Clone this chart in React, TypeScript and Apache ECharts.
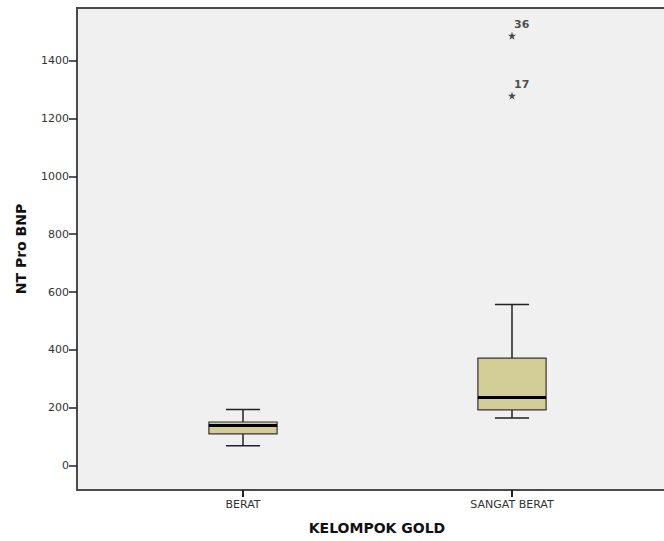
import React, { useEffect, useRef } from "react";
import * as echarts from "echarts";

// ---- data ----
const categories = ["BERAT", "SANGAT BERAT"];
// [position, min whisker, Q1, median, Q3, max whisker]
const boxBerat = [1, 69, 110, 139, 151, 194];
const boxSangatBerat = [2, 165, 193, 236, 372, 557];
// outliers: [position, value, case id]
const outliers = [
  [2, 1486, "36"],
  [2, 1279, "17"],
];
const yTicks = [0, 200, 400, 600, 800, 1000, 1200, 1400];
const xTicks = [1, 2];

const FONT = "DejaVu Sans";
const STAR =
  "path://M0,-10 L2.35,-3.24 L9.51,-3.09 L3.8,1.24 L5.88,8.09 L0,4 L-5.88,8.09 L-3.8,1.24 L-9.51,-3.09 L-2.35,-3.24 Z";

export default function App() {
  const ref = useRef<HTMLDivElement>(null);

  useEffect(() => {
    if (!ref.current) return;
    const chart = echarts.init(ref.current, null, { renderer: "svg" });
    chart.setOption({
      animation: false,
      backgroundColor: "#ffffff",
      grid: {
        left: 77,
        top: 8,
        right: 13,
        bottom: 51,
        show: true,
        backgroundColor: "#f0f0f0",
        borderColor: "#4a4a4a",
        borderWidth: 2,
      },
      xAxis: {
        type: "value",
        min: 0.3829,
        max: 2.6134,
        name: "KELOMPOK GOLD",
        nameLocation: "middle",
        nameGap: 31,
        nameTextStyle: {
          fontFamily: FONT,
          fontWeight: "bold",
          fontSize: 14,
          color: "#111",
        },
        axisLine: { show: true, onZero: false, lineStyle: { color: "#4a4a4a", width: 2 } },
        splitLine: { show: false },
        axisTick: {
          show: true,
          customValues: xTicks,
          length: 7,
          lineStyle: { color: "#222", width: 2 },
        },
        axisLabel: {
          customValues: xTicks,
          formatter: (v: number) => categories[Math.round(v) - 1] ?? "",
          fontFamily: FONT,
          fontSize: 11,
          color: "#333",
          margin: 9,
        },
      },
      yAxis: {
        type: "value",
        min: -84,
        max: 1582,
        name: "NT Pro BNP",
        nameLocation: "middle",
        nameGap: 49,
        nameTextStyle: {
          fontFamily: FONT,
          fontWeight: "bold",
          fontSize: 14,
          color: "#111",
        },
        axisLine: { show: true, onZero: false, lineStyle: { color: "#4a4a4a", width: 2 } },
        splitLine: { show: false },
        axisTick: {
          show: true,
          customValues: yTicks,
          length: 8,
          lineStyle: { color: "#222", width: 1.5 },
        },
        axisLabel: {
          customValues: yTicks,
          formatter: (v: number) => String(v),
          fontFamily: FONT,
          fontSize: 11,
          color: "#333",
          margin: 8,
        },
      },
      series: [
        {
          type: "custom",
          data: [boxBerat, boxSangatBerat],
          encode: { x: 0, y: [1, 2, 3, 4, 5] },
          renderItem: (params: any, api: any) => {
            const x = api.value(0);
            const lo = api.coord([x, api.value(1)]);
            const q1 = api.coord([x, api.value(2)]);
            const med = api.coord([x, api.value(3)]);
            const q3 = api.coord([x, api.value(4)]);
            const hi = api.coord([x, api.value(5)]);
            const bw = api.size([1, 0])[0] * 0.2535;
            const cx = lo[0];
            const cw = bw / 2;
            const whisker = { stroke: "#222", lineWidth: 1.5 };
            return {
              type: "group",
              children: [
                { type: "line", shape: { x1: cx, y1: hi[1], x2: cx, y2: q3[1] }, style: whisker },
                { type: "line", shape: { x1: cx, y1: q1[1], x2: cx, y2: lo[1] }, style: whisker },
                { type: "line", shape: { x1: cx - cw / 2, y1: hi[1], x2: cx + cw / 2, y2: hi[1] }, style: whisker },
                { type: "line", shape: { x1: cx - cw / 2, y1: lo[1], x2: cx + cw / 2, y2: lo[1] }, style: whisker },
                {
                  type: "rect",
                  shape: { x: cx - bw / 2, y: q3[1], width: bw, height: q1[1] - q3[1] },
                  style: { fill: "#d3ce97", stroke: "#333", lineWidth: 1.2 },
                },
                {
                  type: "line",
                  shape: { x1: cx - bw / 2, y1: med[1], x2: cx + bw / 2, y2: med[1] },
                  style: { stroke: "#000", lineWidth: 3 },
                },
              ],
            };
          },
        },
        {
          type: "scatter",
          data: outliers,
          symbol: STAR,
          symbolSize: 8,
          itemStyle: { color: "#222" },
          label: {
            show: true,
            formatter: (p: any) => p.value[2],
            position: [6, -7],
            align: "left",
            verticalAlign: "middle",
            fontFamily: FONT,
            fontWeight: "bold",
            fontSize: 11,
            color: "#222",
          },
        },
      ],
    });
    return () => chart.dispose();
  }, []);

  return (
    <div
      style={{
        position: "fixed",
        left: 0,
        top: 0,
        width: 664,
        height: 541,
        overflow: "hidden",
        background: "#fff",
      }}
    >
      <div ref={ref} style={{ width: 690, height: 541 }} />
    </div>
  );
}
